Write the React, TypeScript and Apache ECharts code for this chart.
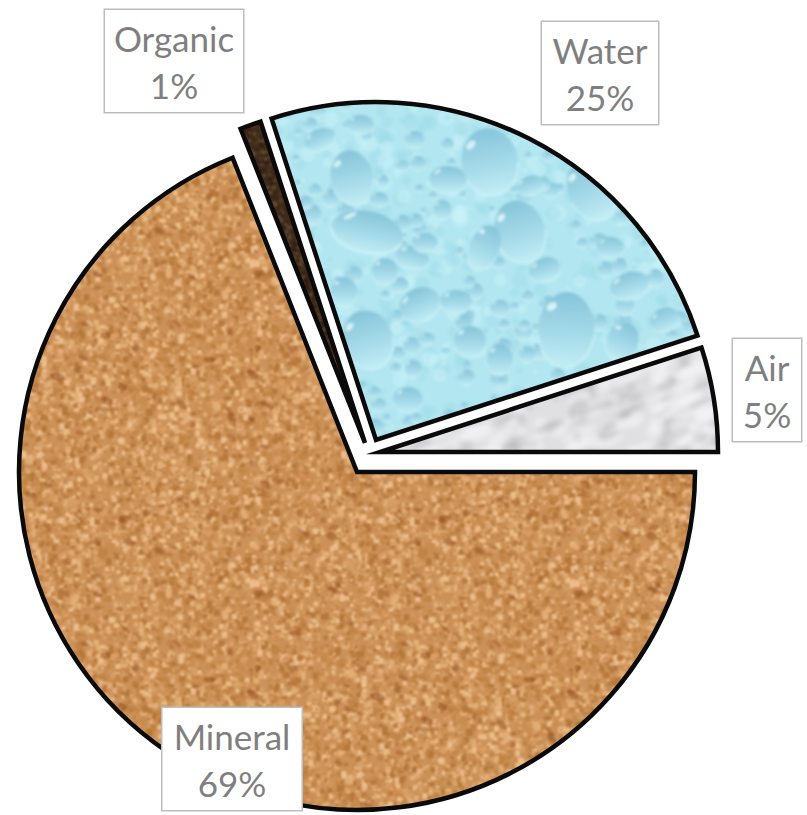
import React, { useEffect, useRef } from "react";
import * as echarts from "echarts";

// Composition of soil, percent by volume
const categories = ["Air", "Water", "Organic", "Mineral"];
const shares = [5, 25, 1, 69];

const WIDTH = 807;
const HEIGHT = 815;
const RADIUS = 338;

// Each slice is pulled out of the pie on its own, so each has its own centre
const sliceCentres: Record<string, [number, number]> = {
  Air: [380, 452],
  Water: [376, 440],
  Organic: [365, 443],
  Mineral: [357, 472],
};

// Label boxes, as centre point and size in pixels
const labelBoxes: Record<string, { x: number; y: number; w: number; h: number }> = {
  Air: { x: 767, y: 390, w: 68, h: 102 },
  Water: { x: 600, y: 73, w: 116, h: 102 },
  Organic: { x: 174, y: 61, w: 138, h: 102 },
  Mineral: { x: 232, y: 759, w: 139, h: 102 },
};

// Large water drops: centre x, y, radius x, radius y, tilt in radians
const bigDrops = [
  [352, 178, 21, 28, -0.2], [367, 232, 36, 21, 0.2], [490, 162, 28, 34, -0.2],
  [520, 232, 25, 32, -0.3], [566, 330, 28, 38, 0.05], [368, 340, 25, 30, -0.3],
  [420, 305, 21, 17, -0.4], [484, 248, 15, 24, 0.4], [592, 190, 24, 32, -0.4],
  [448, 180, 19, 14, 0], [412, 258, 17, 12, 0.2], [320, 140, 16, 11, -0.4],
  [545, 270, 16, 12, -0.3], [622, 342, 16, 20, 0.4], [630, 286, 20, 14, -0.3],
  [470, 342, 16, 16, 0], [408, 400, 15, 13, 0], [500, 360, 13, 16, 0],
  [530, 186, 14, 10, -0.3], [456, 302, 16, 12, 0],
  [610, 248, 14, 11, 0], [665, 320, 15, 12, -0.4], [344, 292, 13, 15, 0],
  [385, 272, 13, 14, 0], [360, 125, 14, 10, 0], [425, 243, 13, 10, 0],
];

function seeded(seed: number) {
  return () => {
    seed = (seed + 0x6d2b79f5) | 0;
    let t = Math.imul(seed ^ (seed >>> 15), 1 | seed);
    t = (t + Math.imul(t ^ (t >>> 7), 61 | t)) ^ t;
    return ((t ^ (t >>> 14)) >>> 0) / 4294967296;
  };
}

function makeCanvas(w: number, h: number) {
  const c = document.createElement("canvas");
  c.width = w;
  c.height = h;
  return c;
}

// Blur a tile with its own edges wrapped round it, so that it repeats without seams
function softened(src: HTMLCanvasElement, blur: number) {
  const w = src.width;
  const h = src.height;
  const pad = 12;
  const wrapped = makeCanvas(w + pad * 2, h + pad * 2);
  const wctx = wrapped.getContext("2d")!;
  for (let i = -1; i <= 1; i++) {
    for (let j = -1; j <= 1; j++) {
      wctx.drawImage(src, pad + i * w, pad + j * h);
    }
  }
  const out = makeCanvas(w, h);
  const ctx = out.getContext("2d")!;
  ctx.filter = `blur(${blur}px)`;
  ctx.drawImage(wrapped, -pad, -pad);
  return out;
}

// Speckled sand grain
function sandTexture() {
  const size = 320;
  const c = makeCanvas(size, size);
  const ctx = c.getContext("2d")!;
  const rnd = seeded(11);
  ctx.fillStyle = "#cb9158";
  ctx.fillRect(0, 0, size, size);
  const palette = ["#e2ad77", "#d69d64", "#c08446", "#ecbd8b", "#c98c50", "#b5773b"];
  for (let i = 0; i < 7000; i++) {
    ctx.fillStyle = palette[Math.floor(rnd() * palette.length)];
    const s = 2 + rnd() * 4;
    ctx.fillRect(rnd() * size, rnd() * size, s, s * (0.7 + rnd() * 0.6));
  }
  for (let i = 0; i < 70; i++) {
    ctx.fillStyle = "rgba(140,72,28,0.42)";
    ctx.beginPath();
    ctx.ellipse(rnd() * size, rnd() * size, 2 + rnd() * 5, 1.5 + rnd() * 2.5, rnd() * 0.8, 0, 7);
    ctx.fill();
  }
  return softened(c, 1.1);
}

// Dark humus grain
function humusTexture() {
  const size = 128;
  const c = makeCanvas(size, size);
  const ctx = c.getContext("2d")!;
  const rnd = seeded(23);
  ctx.fillStyle = "#3f2b1b";
  ctx.fillRect(0, 0, size, size);
  const palette = ["#5a4029", "#2c1c10", "#6b4f35", "#33220f"];
  for (let i = 0; i < 1200; i++) {
    ctx.fillStyle = palette[Math.floor(rnd() * palette.length)];
    ctx.fillRect(rnd() * size, rnd() * size, 3, 3);
  }
  return softened(c, 1);
}

// Pale grey marble
function marbleTexture() {
  const c = makeCanvas(WIDTH, HEIGHT);
  const ctx = c.getContext("2d")!;
  const rnd = seeded(37);
  ctx.fillStyle = "#e0e0e2";
  ctx.fillRect(0, 0, WIDTH, HEIGHT);
  for (let i = 0; i < 5000; i++) {
    const dark = rnd() < 0.32;
    ctx.fillStyle = dark ? "rgba(150,150,154,0.24)" : "rgba(246,246,247,0.5)";
    ctx.beginPath();
    ctx.ellipse(rnd() * WIDTH, rnd() * HEIGHT, 3 + rnd() * 16, 2 + rnd() * 6, -0.4, 0, 7);
    ctx.fill();
  }
  return softened(c, 2.5);
}

function drawDrop(ctx: CanvasRenderingContext2D, x: number, y: number, rx: number, ry: number, tilt: number) {
  ctx.save();
  ctx.translate(x, y);
  ctx.rotate(tilt);
  const grad = ctx.createLinearGradient(0, -ry, 0, ry);
  grad.addColorStop(0, "#86c4d9");
  grad.addColorStop(0.6, "#a8dcea");
  grad.addColorStop(1, "#c4eef5");
  ctx.fillStyle = grad;
  ctx.beginPath();
  ctx.ellipse(0, 0, rx, ry, 0, 0, Math.PI * 2);
  ctx.fill();
  ctx.strokeStyle = "rgba(214,246,250,0.6)";
  ctx.lineWidth = Math.max(1, rx * 0.08);
  ctx.beginPath();
  ctx.ellipse(0, 0, rx, ry, 0, Math.PI * 0.05, Math.PI * 0.95);
  ctx.stroke();
  ctx.fillStyle = "rgba(232,251,253,0.8)";
  ctx.beginPath();
  ctx.ellipse(-rx * 0.55, -ry * 0.6, rx * 0.2, ry * 0.1, -0.6, 0, Math.PI * 2);
  ctx.fill();
  ctx.restore();
}

// Water droplets on a mottled blue ground
function waterTexture() {
  const c = makeCanvas(WIDTH, HEIGHT);
  const ctx = c.getContext("2d")!;
  const rnd = seeded(53);
  ctx.fillStyle = "#b2e6f0";
  ctx.fillRect(0, 0, WIDTH, HEIGHT);
  for (let i = 0; i < 2600; i++) {
    ctx.fillStyle = rnd() < 0.5 ? "rgba(205,243,248,0.45)" : "rgba(150,215,230,0.3)";
    ctx.beginPath();
    ctx.arc(rnd() * WIDTH, rnd() * HEIGHT, 2 + rnd() * 7, 0, 7);
    ctx.fill();
  }
  for (let i = 0; i < 230; i++) {
    const r = 3 + rnd() * 7;
    drawDrop(ctx, 280 + rnd() * 420, 100 + rnd() * 345, r, r * (0.8 + rnd() * 0.4), 0);
  }
  bigDrops.forEach(([x, y, rx, ry, t]) => drawDrop(ctx, x, y, rx, ry, t));
  return softened(c, 1.4);
}

function pattern(image: HTMLCanvasElement) {
  return { image, repeat: "repeat", imageWidth: image.width, imageHeight: image.height };
}

export default function App() {
  const ref = useRef<HTMLDivElement>(null);

  useEffect(() => {
    const chart = echarts.init(ref.current!, null, { renderer: "svg" });
    const fills: Record<string, HTMLCanvasElement> = {
      Air: marbleTexture(),
      Water: waterTexture(),
      Organic: humusTexture(),
      Mineral: sandTexture(),
    };
    chart.setOption({
      animation: false,
      backgroundColor: "#ffffff",
      // One pie per slice: only that slice is painted, the rest hold its angle
      series: categories.map((shown) => ({
        type: "pie",
        name: shown,
        center: sliceCentres[shown],
        radius: [0, RADIUS],
        startAngle: 0,
        clockwise: false,
        avoidLabelOverlap: false,
        silent: true,
        labelLine: { show: false },
        emphasis: { disabled: true },
        data: categories.map((name, i) => ({
          name,
          value: shares[i],
          itemStyle:
            name === shown
              ? {
                  color: pattern(fills[name]),
                  borderColor: "#0a0a0a",
                  borderWidth: 4.5,
                  borderJoin: "miter",
                  borderMiterLimit: 20,
                }
              : { color: "transparent", borderWidth: 0 },
          label:
            name === shown
              ? { show: true, width: labelBoxes[name].w, height: labelBoxes[name].h - 3 }
              : { show: false },
        })),
        label: {
          position: "inside",
          formatter: (p: any) => `${p.name}\n${p.value}%`,
          fontFamily: "Lato",
          fontSize: 35,
          lineHeight: 47,
          color: "#7f7f7f",
          align: "center",
          verticalAlign: "middle",
          padding: [0, 0, 3, 0],
          backgroundColor: "#ffffff",
          borderColor: "#bdbdbd",
          borderWidth: 1.5,
        },
        labelLayout: (params: any) => {
          const box = labelBoxes[categories[params.dataIndex]];
          return { x: box.x, y: box.y, align: "center", verticalAlign: "middle" };
        },
      })),
    });
    return () => chart.dispose();
  }, []);

  return (
    <div
      ref={ref}
      style={{ position: "absolute", left: 0, top: 0, width: WIDTH, height: HEIGHT }}
    />
  );
}
